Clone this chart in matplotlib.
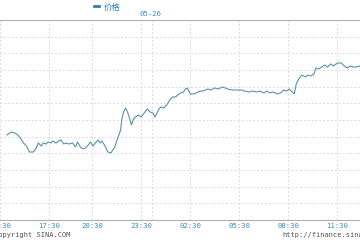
import matplotlib
matplotlib.use('Agg')
import matplotlib.pyplot as plt

# sample position along the time axis and price (in grid steps)
slot = [0, 3, 5, 8, 10, 13, 15, 17, 20, 23,
        27, 30, 32, 35, 37, 40, 42, 45, 47, 50,
        53, 55, 58, 60, 63, 67, 70, 72, 75, 78,
        80, 83, 85, 88, 90, 93, 95, 97, 100, 103,
        106, 110, 113, 116, 117, 119, 121, 123, 125, 127,
        129, 131, 134, 137, 140, 143, 146, 149, 151, 153,
        155, 157, 160, 163, 166, 169, 172, 174, 177, 180,
        182, 184, 187, 190, 193, 197, 200, 205, 208, 212,
        215, 220, 225, 230, 235, 240, 242, 247, 250, 255,
        258, 262, 265, 268, 271, 274, 276, 279, 282, 285,
        288, 290, 293, 295, 298, 301, 304, 307, 310, 313,
        315, 318, 321, 324, 327, 330, 333, 337, 341, 344,
        347, 350, 353, 356, 360]
price = [5.10, 5.22, 5.28, 5.22, 5.16, 4.98, 4.80, 4.62, 4.44, 4.08,
         4.08, 4.32, 4.62, 4.44, 4.62, 4.56, 4.68, 4.62, 4.74, 4.62,
         4.74, 4.80, 4.56, 4.62, 4.56, 4.62, 4.38, 4.68, 4.38, 4.26,
         4.32, 4.50, 4.68, 4.44, 4.62, 4.80, 4.62, 4.74, 4.44, 4.08,
         4.02, 4.38, 4.92, 5.40, 6.00, 6.48, 6.72, 6.48, 6.12, 5.70,
         6.06, 6.18, 6.30, 6.18, 6.42, 6.66, 6.48, 6.42, 6.18, 6.42,
         6.66, 6.78, 6.72, 6.90, 7.20, 7.38, 7.38, 7.50, 7.62, 7.68,
         7.86, 7.92, 7.56, 7.56, 7.62, 7.74, 7.74, 7.86, 7.80, 7.92,
         7.86, 7.98, 7.86, 7.80, 7.80, 7.80, 7.74, 7.68, 7.74, 7.68,
         7.74, 7.62, 7.74, 7.62, 7.68, 7.62, 7.56, 7.62, 7.80, 7.74,
         7.86, 7.74, 7.56, 8.16, 8.52, 8.70, 8.58, 8.70, 8.64, 8.76,
         9.12, 9.06, 9.18, 9.30, 9.18, 9.36, 9.24, 9.42, 9.42, 9.24,
         9.12, 9.24, 9.18, 9.18, 9.24]

tick_slots = [-7, 43, 87, 137, 187, 237, 287, 337]
tick_labels = ['14:30', '17:30', '20:30', '23:30', '02:30', '05:30', '08:30', '11:30']
day_slot = 148
day_label = '05-26'

fig = plt.figure(figsize=(3.6, 2.4), dpi=100)
ax = fig.add_axes([0, 20 / 240, 1, 200 / 240])

ax.plot(slot, price, color='#5a92ab', lw=0.8)

ax.set_xlim(0, 360)
ax.set_ylim(0, 12)
ax.set_yticks(range(1, 12))
ax.set_yticklabels([])
ax.tick_params(axis='y', length=0)
ax.set_xticks(tick_slots)
ax.set_xticklabels(tick_labels, family='DejaVu Sans Mono', fontsize=5.2, color='#3a8fbf')
ax.tick_params(axis='x', length=0, pad=2)
for t in ax.get_xticklabels():
    t.set_clip_on(False)

ax.grid(True, color='#dcdcdc', ls=(0, (2, 2)), lw=0.7)
ax.axvline(day_slot, color='#dcdcdc', ls=(0, (2, 2)), lw=0.7)
for s in ['left', 'right']:
    ax.spines[s].set_visible(False)
for s in ['top', 'bottom']:
    ax.spines[s].set_color('#b0b0b0')
    ax.spines[s].set_linewidth(0.8)

ax.text(day_slot - 2, 12.15, day_label, family='DejaVu Sans Mono', fontsize=5.2,
        color='#3a8fbf', ha='center', va='bottom')

# legend
fig.lines.append(plt.Line2D([94 / 360, 99 / 360], [1 - 6 / 240, 1 - 6 / 240],
                            color='#2f7fb0', lw=2, transform=fig.transFigure))
fig.text(104 / 360, 1 - 7 / 240, '价格', family=['Noto Sans CJK SC', 'DejaVu Sans'],
         fontsize=6, color='#2f7fb0', va='center', ha='left')

fig.text(-6 / 360, 1 - 235.5 / 240, 'Copyright SINA.COM', family='DejaVu Sans Mono',
         fontsize=5, color='#555555', va='center', ha='left')
fig.text(282 / 360, 1 - 235.5 / 240, 'http://finance.sina.com.cn', family='DejaVu Sans Mono',
         fontsize=5, color='#555555', va='center', ha='left')

fig.savefig('out.png', dpi=100)
